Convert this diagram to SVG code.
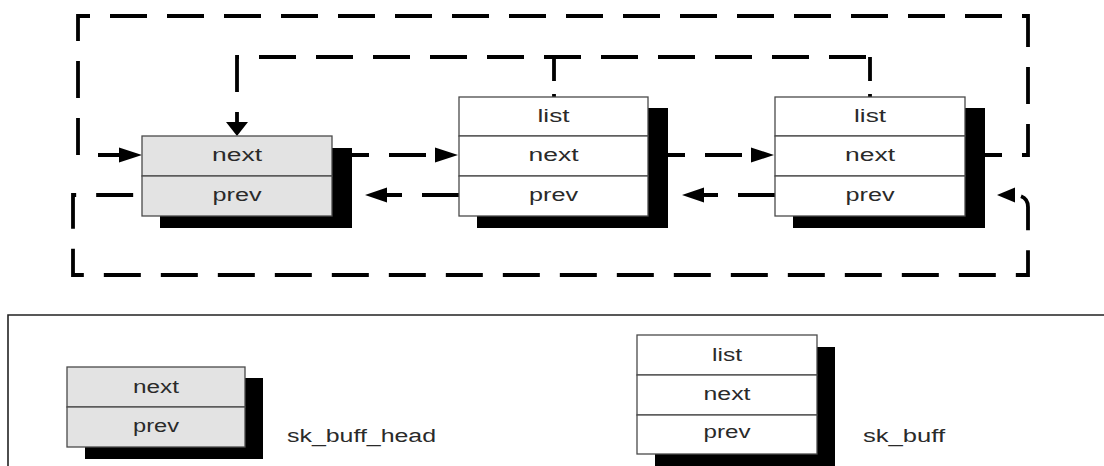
<svg xmlns="http://www.w3.org/2000/svg" width="1104" height="466" viewBox="0 0 1104 466">
  <style>
    .shadow { fill: #000; }
    .cell { stroke: #4a4a4a; stroke-width: 1.3; }
    .head-fill { fill: #e3e3e3; }
    .buff-fill { fill: #fff; }
    .lbl { font-family: "Liberation Sans", Arial, sans-serif; font-size: 18px; fill: #2a2a2a; text-anchor: middle; }
    .cap { font-family: "Liberation Sans", Arial, sans-serif; font-size: 18px; fill: #2a2a2a; }
    .link { fill: none; stroke: #000; stroke-width: 3.8; stroke-dasharray: 37 20; }
    .stub { fill: none; stroke: #000; stroke-width: 3.8; stroke-dasharray: 24 13 3 10; }
    .tip { fill: #000; }
    .frame { fill: none; stroke: #222; stroke-width: 1.6; }
  </style>

  <rect width="1104" height="466" fill="#fff"/>

  <!-- list pointers -->
  <g id="connectors">
    <!-- last next back to head -->
    <path class="link" d="M 965 155 H 1028 V 16 H 78 V 155 H 120"/>
    <polygon class="tip" points="142,155 119,147.5 119,162.5"/>
    <!-- head prev around the bottom to last buffer -->
    <path class="link" d="M 1013 195 Q 1028 195 1028 207 V 275 H 73 V 195 H 142" stroke-dashoffset="-8"/>
    <polygon class="tip" points="997,195 1015,187.5 1015,202.5"/>
    <!-- list fields pointing at head -->
    <path class="link" d="M 870 57 H 237 V 123" stroke-dashoffset="-4"/>
    <path class="stub" d="M 870 57 V 97"/>
    <path class="stub" d="M 554 57 V 97"/>
    <polygon class="tip" points="237,136 226,122 248,122"/>
    <!-- next links -->
    <path class="link" d="M 332 155 H 436"/>
    <polygon class="tip" points="458,155 435,147.5 435,162.5"/>
    <path class="link" d="M 648 155 H 752"/>
    <polygon class="tip" points="774,155 751,147.5 751,162.5"/>
    <!-- prev links -->
    <path class="link" d="M 459 195 H 386"/>
    <polygon class="tip" points="365,195 387,187.5 387,202.5"/>
    <path class="link" d="M 775 195 H 702"/>
    <polygon class="tip" points="682,195 704,187.5 704,202.5"/>
  </g>

  <!-- sk_buff_head -->
  <g id="queue-head">
    <rect class="shadow" x="160" y="148" width="192" height="80"/>
    <rect class="cell head-fill" x="142" y="136" width="190" height="40"/>
    <rect class="cell head-fill" x="142" y="176" width="190" height="40"/>
    <text class="lbl" x="237" y="161" textLength="50" lengthAdjust="spacingAndGlyphs">next</text>
    <text class="lbl" x="237" y="201" textLength="49" lengthAdjust="spacingAndGlyphs">prev</text>
  </g>

  <!-- first sk_buff -->
  <g id="buff-1">
    <rect class="shadow" x="477" y="108" width="191" height="120"/>
    <rect class="cell buff-fill" x="459" y="97" width="189" height="39"/>
    <rect class="cell buff-fill" x="459" y="136" width="189" height="40"/>
    <rect class="cell buff-fill" x="459" y="176" width="189" height="40"/>
    <text class="lbl" x="553.5" y="121.5" textLength="32" lengthAdjust="spacingAndGlyphs">list</text>
    <text class="lbl" x="553.5" y="161" textLength="50" lengthAdjust="spacingAndGlyphs">next</text>
    <text class="lbl" x="553.5" y="201" textLength="49" lengthAdjust="spacingAndGlyphs">prev</text>
  </g>

  <!-- second sk_buff -->
  <g id="buff-2">
    <rect class="shadow" x="793" y="108" width="192" height="120"/>
    <rect class="cell buff-fill" x="775" y="97" width="190" height="39"/>
    <rect class="cell buff-fill" x="775" y="136" width="190" height="40"/>
    <rect class="cell buff-fill" x="775" y="176" width="190" height="40"/>
    <text class="lbl" x="870" y="121.5" textLength="32" lengthAdjust="spacingAndGlyphs">list</text>
    <text class="lbl" x="870" y="161" textLength="50" lengthAdjust="spacingAndGlyphs">next</text>
    <text class="lbl" x="870" y="201" textLength="49" lengthAdjust="spacingAndGlyphs">prev</text>
  </g>

  <!-- key -->
  <path class="frame" d="M 8 466 V 315 H 1104"/>

  <g id="key-head">
    <rect class="shadow" x="85" y="378" width="178" height="81"/>
    <rect class="cell head-fill" x="67" y="367" width="178" height="40"/>
    <rect class="cell head-fill" x="67" y="407" width="178" height="40"/>
    <text class="lbl" x="156" y="392.5" textLength="46" lengthAdjust="spacingAndGlyphs">next</text>
    <text class="lbl" x="156" y="431.5" textLength="46" lengthAdjust="spacingAndGlyphs">prev</text>
    <text class="cap" x="287" y="441.5" textLength="149" lengthAdjust="spacingAndGlyphs">sk_buff_head</text>
  </g>

  <g id="key-buff">
    <rect class="shadow" x="655" y="347" width="180" height="125"/>
    <rect class="cell buff-fill" x="637" y="335" width="180" height="40"/>
    <rect class="cell buff-fill" x="637" y="375" width="180" height="40"/>
    <rect class="cell buff-fill" x="637" y="415" width="180" height="39"/>
    <text class="lbl" x="727" y="360.5" textLength="30" lengthAdjust="spacingAndGlyphs">list</text>
    <text class="lbl" x="727" y="400" textLength="47" lengthAdjust="spacingAndGlyphs">next</text>
    <text class="lbl" x="727" y="437.5" textLength="47" lengthAdjust="spacingAndGlyphs">prev</text>
    <text class="cap" x="863" y="441.5" textLength="82" lengthAdjust="spacingAndGlyphs">sk_buff</text>
  </g>
</svg>
